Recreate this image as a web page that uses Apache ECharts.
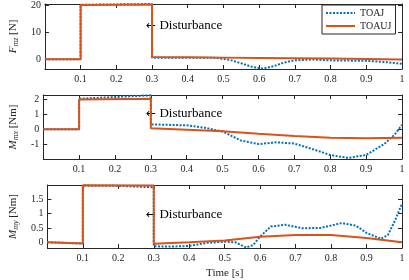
<!DOCTYPE html>
<html><head><meta charset="utf-8">
<script src="https://cdn.jsdelivr.net/npm/echarts@6/dist/echarts.min.js"></script>
<style>html,body{margin:0;padding:0;background:#fff}#c{width:409px;height:280px}</style>
</head><body><div id="c"></div>
<script>
// ---- data ----
const seriesNames = ['TOAJ', 'TOAUJ'];
const xTickValues = [0.1, 0.2, 0.3, 0.4, 0.5, 0.6, 0.7, 0.8, 0.9, 1];

// Panel 1: F_mz [N]
const fmzTOAUJ_t = [0, 0.1, 0.1, 0.3, 0.3, 0.4, 0.5, 0.6, 0.7, 0.8, 0.9, 1.0];
const fmzTOAUJ_y = [0, 0, 20, 20.2, 0.8, 0.7, 0.6, 0.5, 0.4, 0.3, 0.1, -0.1];
const fmzTOAJ_t = [0, 0.1, 0.1, 0.3, 0.3, 0.4, 0.48, 0.52, 0.55, 0.58, 0.61, 0.64, 0.67, 0.7, 0.75, 0.8, 0.85, 0.9, 0.95, 1.0];
const fmzTOAJ_y = [0, 0, 20.1, 20.4, 0.6, 0.6, 0.5, -0.3, -1.5, -2.8, -3.4, -2.6, -1.2, -0.4, -0.1, -0.4, -0.5, -0.6, -1.0, -1.7];
const fmzTicks = [0, 10, 20];

// Panel 2: M_mx [Nm]
const mmxTOAUJ_t = [0, 0.1, 0.1, 0.3, 0.3, 0.4, 0.5, 0.6, 0.7, 0.8, 0.9, 1.0];
const mmxTOAUJ_y = [0, 0, 2.0, 2.05, 0.07, -0.03, -0.13, -0.3, -0.45, -0.57, -0.61, -0.58];
const mmxTOAJ_t = [0, 0.1, 0.1, 0.3, 0.3, 0.4, 0.45, 0.5, 0.55, 0.6, 0.65, 0.7, 0.75, 0.8, 0.85, 0.9, 0.95, 0.98, 1.0];
const mmxTOAJ_y = [0, 0, 2.05, 2.28, 0.33, 0.26, 0.1, -0.15, -0.75, -1.0, -0.88, -0.96, -1.33, -1.73, -1.93, -1.73, -1.0, -0.35, 0.3];
const mmxTicks = [-1, 0, 1, 2];

// Panel 3: M_my [Nm]
const mmyTOAUJ_t = [0, 0.1, 0.1, 0.3, 0.3, 0.4, 0.5, 0.6, 0.7, 0.8, 0.9, 1.0];
const mmyTOAUJ_y = [0, -0.04, 1.99, 1.98, -0.05, 0.0, 0.06, 0.19, 0.25, 0.25, 0.15, 0.0];
const mmyTOAJ_t = [0, 0.1, 0.1, 0.2, 0.3, 0.3, 0.35, 0.4, 0.45, 0.5, 0.53, 0.56, 0.58, 0.6, 0.63, 0.67, 0.72, 0.77, 0.83, 0.87, 0.9, 0.94, 0.96, 0.98, 1.0];
const mmyTOAJ_y = [0, -0.04, 1.98, 1.97, 1.92, -0.14, -0.15, -0.13, -0.02, 0.02, 0.0, -0.18, -0.1, 0.2, 0.55, 0.61, 0.49, 0.5, 0.67, 0.58, 0.33, 0.12, 0.25, 0.75, 1.35];
const mmyTicks = [0, 0.5, 1, 1.5];

const annotationArrow = '\u2190';
const annotationText = 'Disturbance';
const xName = 'Time [s]';

// ---- styling ----
const BLUE = '#0072BD', ORANGE = '#D95319', AX = '#262626';
const FONT = 'Liberation Serif';
const zip = (t, y) => t.map((v, i) => [v, y[i]]);

const panels = [
  {top: 4, height: 65, min: -3.6, max: 20.4, ticks: fmzTicks, name: '{i|F}{s|mz} [N]', blue: zip(fmzTOAJ_t, fmzTOAJ_y), orange: zip(fmzTOAUJ_t, fmzTOAUJ_y)},
  {top: 95, height: 64, min: -2, max: 2.3, ticks: mmxTicks, name: '{i|M}{s|mx} [Nm]', blue: zip(mmxTOAJ_t, mmxTOAJ_y), orange: zip(mmxTOAUJ_t, mmxTOAUJ_y)},
  {top: 185, height: 66, min: -0.2, max: 2.0, ticks: mmyTicks, name: '{i|M}{s|my} [Nm]', blue: zip(mmyTOAJ_t, mmyTOAJ_y), orange: zip(mmyTOAUJ_t, mmyTOAUJ_y)}
];

const grid = [], xAxis = [], yAxis = [], series = [];
panels.forEach((p, k) => {
  grid.push({left: 31, right: 7, top: p.top, height: p.height});
  const xBase = {
    type: 'value', gridIndex: k, min: 0, max: 1, interval: 0.1,
    axisLine: {show: true, onZero: false, lineStyle: {color: AX, width: 1}},
    axisTick: {show: true, inside: true, length: 4, lineStyle: {color: AX}, customValues: xTickValues},
    splitLine: {show: false}
  };
  xAxis.push(Object.assign({}, xBase, {
    position: 'bottom',
    axisLabel: {show: true, color: AX, fontFamily: FONT, fontSize: 10, margin: 5, customValues: xTickValues,
      formatter: v => (Math.round(v * 10) / 10).toString()},
    name: k === 2 ? xName : '', nameLocation: 'middle', nameGap: 20,
    nameTextStyle: {color: AX, fontFamily: FONT, fontSize: 11}
  }));
  xAxis.push(Object.assign({}, xBase, {position: 'top', axisLabel: {show: false}}));
  const yBase = {
    type: 'value', gridIndex: k, min: p.min, max: p.max,
    axisLine: {show: true, onZero: false, lineStyle: {color: AX, width: 1}},
    axisTick: {show: true, inside: true, length: 4, lineStyle: {color: AX}, customValues: p.ticks},
    splitLine: {show: false}
  };
  yAxis.push(Object.assign({}, yBase, {
    position: 'left',
    axisLabel: {show: true, color: AX, fontFamily: FONT, fontSize: 10, margin: 4, customValues: p.ticks,
      formatter: v => String(v)},
    name: p.name, nameLocation: 'middle', nameGap: 19, nameRotate: 90,
    nameTextStyle: {color: AX, fontFamily: FONT, fontSize: 11,
      rich: {
        i: {fontFamily: FONT, fontStyle: 'italic', fontSize: 11, color: AX},
        s: {fontFamily: FONT, fontStyle: 'italic', fontSize: 8, color: AX, padding: [5, 0, 0, 0]}
      }}
  }));
  yAxis.push(Object.assign({}, yBase, {position: 'right', axisLabel: {show: false}}));
  series.push({
    name: seriesNames[0], type: 'line', xAxisIndex: 2 * k, yAxisIndex: 2 * k,
    data: p.blue, showSymbol: false, symbol: 'none', z: 2,
    lineStyle: {color: BLUE, width: 2, type: [2, 1.5]}, itemStyle: {color: BLUE}
  });
  series.push({
    name: seriesNames[1], type: 'line', xAxisIndex: 2 * k, yAxisIndex: 2 * k,
    data: p.orange, showSymbol: false, symbol: 'none', z: 3,
    lineStyle: {color: ORANGE, width: 2}, itemStyle: {color: ORANGE}
  });
});

const annTops = [26, 114, 215];
const graphic = annTops.map(t => ({
  type: 'text', left: 146, top: t - 7,
  style: {
    text: '{a|' + annotationArrow + '} {b|' + annotationText + '}',
    rich: {
      a: {fontFamily: 'DejaVu Sans', fontSize: 12, fill: '#000'},
      b: {fontFamily: FONT, fontSize: 13, fill: '#000'}
    }
  }
}));

const chart = echarts.init(document.getElementById('c'), null, {renderer: 'canvas'});
chart.setOption({
  animation: false,
  backgroundColor: '#fff',
  grid, xAxis, yAxis, series, graphic,
  legend: {
    show: true,
    data: seriesNames, left: 322, top: 5, orient: 'vertical',
    backgroundColor: '#fff', borderColor: AX, borderWidth: 1, borderRadius: 0,
    padding: [3, 4, 3, 3], itemGap: 3, itemWidth: 29, itemHeight: 10,
    itemStyle: {opacity: 0},
    textStyle: {color: AX, fontFamily: FONT, fontSize: 10},
    z: 10
  }
});
</script></body></html>
